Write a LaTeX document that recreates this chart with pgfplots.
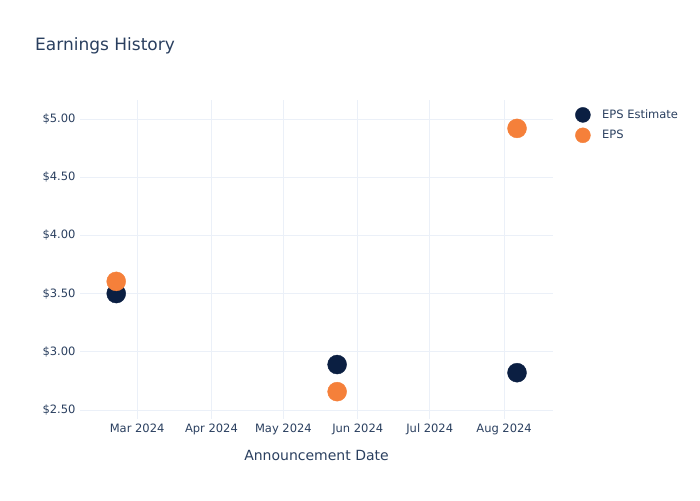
\documentclass[border=0pt]{standalone}
\usepackage{pgfplots}
\pgfplotsset{compat=1.18}
\usepackage{fontspec}
\setmainfont{DejaVu Sans}
\definecolor{txt}{HTML}{2A3F5F}
\definecolor{gridc}{HTML}{EBF0F8}
\definecolor{navy}{HTML}{0B1F42}
\definecolor{orng}{HTML}{F5803A}
\begin{document}
\begin{tikzpicture}[x=1pt,y=1pt]
\path[use as bounding box] (0,0) rectangle (700,500);
\node[anchor=west,text=txt,font=\fontsize{17}{20}\selectfont,inner sep=0pt] at (35,454) {Earnings History};
\begin{axis}[
  at={(80pt,81pt)}, anchor=south west,
  width=473pt, height=319pt, scale only axis,
  xmin=36.2, xmax=233.4, ymin=2.422, ymax=5.164,
  axis line style={draw=none},
  major tick length=0pt,
  xtick={60,91,121,152,182,213},
  xticklabels={Mar 2024,Apr 2024,May 2024,Jun 2024,Jul 2024,Aug 2024},
  ytick={2.5,3,3.5,4,4.5,5},
  yticklabels={\$2.50,\$3.00,\$3.50,\$4.00,\$4.50,\$5.00},
  grid=major,
  major grid style={gridc, line width=0.8pt},
  tick label style={text=txt, font=\fontsize{11.5}{13}\selectfont},
  yticklabel style={xshift=-1pt},
  xticklabel style={yshift=-1pt},
  xlabel={Announcement Date},
  xlabel style={text=txt, font=\fontsize{14}{16}\selectfont, yshift=-9pt},
  legend style={at={(1,1)}, anchor=north west, xshift=19pt, yshift=-5pt, draw=none, fill=none,
    font=\fontsize{11.5}{13}\selectfont, text=txt, row sep=5pt,
    nodes={inner sep=1.5pt},
    /tikz/every odd column/.append style={column sep=10pt}},
  legend cell align=left,
  legend image code/.code={\fill (0,0) circle (7.5pt);},
  clip=false,
]
\addplot[only marks, mark=*, mark size=9.5pt, color=navy, fill=navy] coordinates {
  (51.3,3.50) (143.4,2.89) (218.4,2.82)
};
\addlegendentry{EPS Estimate}
\addplot[only marks, mark=*, mark size=9.5pt, color=orng, fill=orng] coordinates {
  (51.3,3.605) (143.4,2.657) (218.4,4.92)
};
\addlegendentry{EPS}
\end{axis}
\end{tikzpicture}
\end{document}
